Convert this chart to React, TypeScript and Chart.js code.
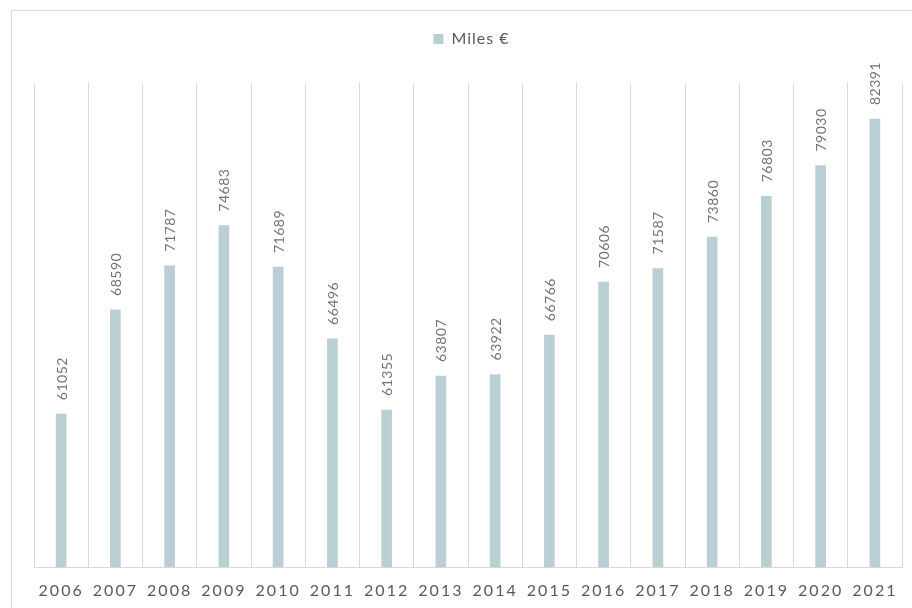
import React, { useEffect, useRef } from "react";
import { Chart, registerables } from "chart.js";

Chart.register(...registerables);

const years = ["2006", "2007", "2008", "2009", "2010", "2011", "2012", "2013", "2014", "2015", "2016", "2017", "2018", "2019", "2020", "2021"];
const values = [61052, 68590, 71787, 74683, 71689, 66496, 61355, 63807, 63922, 66766, 70606, 71587, 73860, 76803, 79030, 82391];
const seriesLabel = "Miles €";
const yMin = 50000;
const yMax = 85000;

const FONT = "Lato, 'Open Sans', sans-serif";
const BAR_COLOR = "#b9cfd3";
const GRID_COLOR = "#d9d9d9";
const TEXT_COLOR = "#595959";
const LABEL_COLOR = "#737373";

function setSpacing(ctx: any, v: string) {
  if (ctx && "letterSpacing" in ctx) ctx.letterSpacing = v;
}

const verticalLabels = {
  id: "verticalLabels",
  beforeDraw(chart: any) {
    setSpacing(chart.ctx, "1px");
  },
  afterDatasetsDraw(chart: any) {
    const ctx = chart.ctx;
    const meta = chart.getDatasetMeta(0);
    const data = chart.data.datasets[0].data as number[];
    ctx.save();
    setSpacing(ctx, "0.5px");
    ctx.font = `14px ${FONT}`;
    ctx.fillStyle = LABEL_COLOR;
    ctx.textAlign = "left";
    ctx.textBaseline = "middle";
    meta.data.forEach((el: any, i: number) => {
      const { x, y } = el.getProps(["x", "y"], true);
      ctx.save();
      ctx.translate(x + 1, y - 14);
      ctx.rotate(-Math.PI / 2);
      ctx.fillText(String(data[i]), 0, 0);
      ctx.restore();
    });
    ctx.restore();
    setSpacing(ctx, "2px");
  },
  afterDraw(chart: any) {
    setSpacing(chart.ctx, "0px");
  },
};

export default function App() {
  const ref = useRef<HTMLCanvasElement | null>(null);

  useEffect(() => {
    if (!ref.current) return;
    const chart = new Chart(ref.current, {
      type: "bar",
      data: {
        labels: years,
        datasets: [
          {
            label: seriesLabel,
            data: values,
            backgroundColor: BAR_COLOR,
            borderWidth: 0,
            barThickness: 10,
          },
        ],
      },
      options: {
        animation: false,
        responsive: false,
        devicePixelRatio: 1,
        layout: { padding: { left: 34, right: 10, top: 21, bottom: 0 } },
        plugins: {
          legend: {
            display: true,
            position: "top",
            align: "center",
            labels: {
              boxWidth: 10,
              boxHeight: 10,
              padding: 10,
              color: TEXT_COLOR,
              font: { family: FONT, size: 16 },
            },
          },
          tooltip: { enabled: false },
          title: { display: false },
        },
        scales: {
          x: {
            type: "category",
            position: "bottom",
            offset: true,
            grid: { display: true, offset: true, color: GRID_COLOR, lineWidth: 1, drawTicks: false },
            border: { display: true, color: GRID_COLOR, width: 1 },
            ticks: {
              z: 1,
              color: TEXT_COLOR,
              font: { family: FONT, size: 16 },
              padding: 14,
              autoSkip: false,
              maxRotation: 0,
              minRotation: 0,
            },
            afterFit: (s: any) => {
              s.height = 41;
            },
          },
          x2: {
            type: "category",
            position: "top",
            labels: years,
            display: true,
            grid: { display: false, drawTicks: false },
            border: { display: false },
            ticks: { display: false },
            afterFit: (s: any) => {
              s.height = 26;
            },
          },
          y: {
            display: false,
            min: yMin,
            max: yMax,
          },
        },
      },
      plugins: [verticalLabels],
    } as any);
    return () => chart.destroy();
  }, []);

  return (
    <div
      style={{
        position: "fixed",
        left: 0,
        top: 0,
        width: 912,
        height: 608,
        overflow: "hidden",
        background: "#ffffff",
      }}
    >
      <canvas ref={ref} width={912} height={608} style={{ position: "absolute", left: 0, top: 0, width: 912, height: 608 }} />
      <div
        style={{
          position: "absolute",
          left: 11,
          top: 10,
          width: 1000,
          height: 1000,
          border: `1px solid ${GRID_COLOR}`,
          pointerEvents: "none",
        }}
      />
    </div>
  );
}
